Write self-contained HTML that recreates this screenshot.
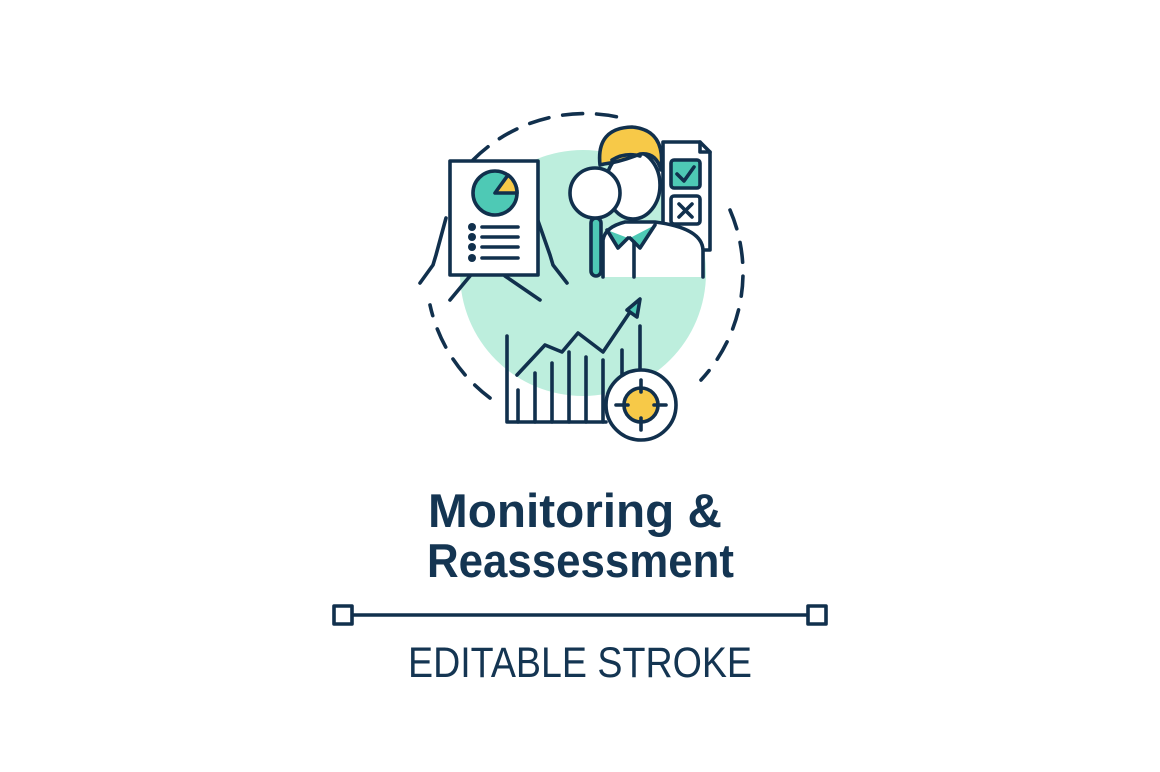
<!DOCTYPE html>
<html><head><meta charset="utf-8"><style>
html,body{margin:0;padding:0;background:#fff;}
svg{display:block}
</style></head><body>
<svg width="1160" height="772" viewBox="0 0 1160 772" xmlns="http://www.w3.org/2000/svg">
<g fill="none" stroke="#11304d" stroke-width="3.6" stroke-linecap="round" stroke-linejoin="round">
  <circle cx="583" cy="273" r="123" fill="#bdeedd" stroke="none"/>
  <!-- dashed arcs -->
  <path d="M473 160 A158 158 0 0 1 626 119" stroke-dasharray="20 14"/>
  <path d="M730 210 A158 158 0 0 1 701 380" stroke-dasharray="20 14"/>
  <path d="M490 398 A158 158 0 0 1 430 305" stroke-dasharray="20 14"/>
  <!-- hands -->
  <path d="M446 218 L436 255 L433 265 L420 283"/>
  <path d="M470 276 L450 300"/>
  <path d="M537 218 L550 255 L553 265 L567 283"/>
  <path d="M505 276 L540 300"/>
  <!-- document -->
  <rect x="450" y="161" width="88" height="114" fill="#fff"/>
  <circle cx="495" cy="193" r="22" fill="#4ec9b5"/>
  <path d="M495 193 L517 193 A22 22 0 0 0 508 175 Z" fill="#f7c948"/>
  <g fill="#11304d" stroke="none">
    <circle cx="472" cy="227" r="4"/><circle cx="472" cy="237" r="4"/>
    <circle cx="472" cy="247" r="4"/><circle cx="472" cy="258" r="4"/>
  </g>
  <path d="M482 227H518M482 237H518M482 247H518M482 258H518"/>
  <!-- checklist doc -->
  <path d="M663 142 L700 142 L710 152 L710 250 L663 250 Z" fill="#fff"/>
  <path d="M700 142 L700 152 L710 152"/>
  <rect x="671" y="160" width="29" height="28" rx="3" fill="#4ec9b5"/>
  <path d="M677 174 L684 181 L694 167"/>
  <rect x="671" y="196" width="29" height="28" rx="3" fill="#fff"/>
  <path d="M679 204 L692 217 M692 204 L679 217"/>
  <!-- person body -->
  <path d="M603 277 L603 240 Q605 227 625 222 L655 222 Q702 228 703 250 L703 277" fill="#fff"/>
  <path d="M607 230 L618 248 L628 238 M655 225 L640 248 L630 238" fill="#4ec9b5"/>
  <path d="M634 242 L634 277"/>
  <!-- head -->
  <ellipse cx="633" cy="185" rx="27" ry="34" fill="#fff"/>
  <path d="M600 165 Q596 128 632 127 Q666 130 661 170 Q656 152 640 154 Q620 162 604 164 Z" fill="#f7c948"/>
  <path d="M612 160 Q625 152 640 156"/>
  <!-- magnifier -->
  <rect x="591" y="218" width="10" height="58" rx="5" fill="#4ec9b5"/>
  <circle cx="595" cy="193" r="25" fill="#fff"/>
  <!-- chart -->
  <path d="M507 336 L507 422 L606 422"/>
  <path d="M518 422V390M535 422V373M552 422V363M569 422V352M586 422V357M603 422V360M622 422V350M640 372V326"/>
  <path d="M517 375 L545 345 L562 352 L578 333 L603 352 L630 312"/>
  <path d="M627 310 L640 299 L637 317 Z" fill="#4ec9b5"/>
  <!-- target -->
  <circle cx="641" cy="405" r="35" fill="#fff"/>
  <circle cx="641" cy="405" r="17" fill="#f7c948"/>
  <path d="M641 380V392M641 418V430M616 405H628M654 405H666"/>
  <!-- bottom line -->
  <path d="M353 615H807"/>
  <rect x="334" y="606" width="18" height="18" fill="#fff"/>
  <rect x="808" y="606" width="18" height="18" fill="#fff"/>
</g>
<g fill="#143552" font-family="Liberation Sans, sans-serif" text-anchor="start">
  <text x="428" y="527" font-size="47" font-weight="bold" textLength="294" lengthAdjust="spacingAndGlyphs">Monitoring &amp;</text>
  <text x="427" y="577" font-size="47" font-weight="bold" textLength="307" lengthAdjust="spacingAndGlyphs">Reassessment</text>
  <text x="408" y="677" font-size="43" textLength="344" lengthAdjust="spacingAndGlyphs">EDITABLE STROKE</text>
</g>
</svg>
</body></html>
